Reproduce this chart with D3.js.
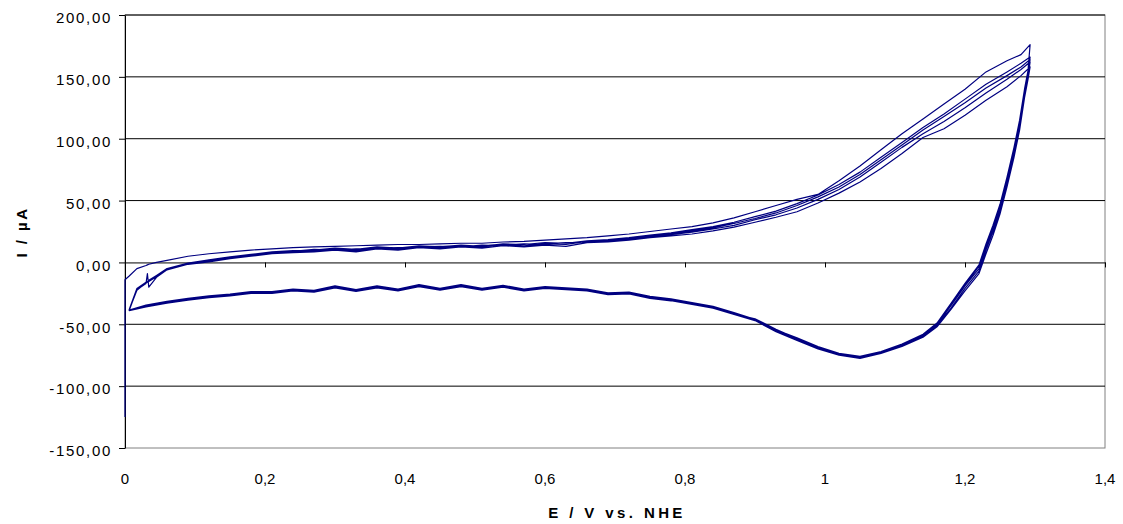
<!DOCTYPE html>
<html>
<head>
<meta charset="utf-8">
<script src="https://cdn.jsdelivr.net/npm/d3@7"></script>
<style>
  html, body { margin: 0; padding: 0; background: #fff; }
  svg { display: block; }
  text { font-family: "Liberation Sans", Arial, sans-serif; fill: #000; }
</style>
</head>
<body>
<svg id="chart" width="1123" height="524"></svg>
<script>
// ---- data (E / V vs. NHE, I / µA) ----
const xTicks = [0, 0.2, 0.4, 0.6, 0.8, 1, 1.2, 1.4];
const yTicks = [-150, -100, -50, 0, 50, 100, 150, 200];

const startSegment = [[0, -125], [0, -14]];

const anodicE = [0.006, 0.017, 0.030, 0.032, 0.034, 0.045, 0.06, 0.09, 0.12, 0.15, 0.18, 0.21, 0.24, 0.27, 0.30, 0.33, 0.36, 0.39, 0.42, 0.45, 0.48, 0.51, 0.54, 0.57, 0.60, 0.63, 0.66, 0.69, 0.72, 0.75, 0.78, 0.81, 0.84, 0.87, 0.90, 0.93, 0.96, 0.99, 1.02, 1.05, 1.08, 1.11, 1.14, 1.17, 1.20, 1.23, 1.26, 1.28, 1.293];

const anodic1 = [-11, -5, -2.5, -2, -1.5, 0, 1.6, 5, 7, 8.5, 10, 11, 12, 12.5, 13, 13.5, 14, 14.5, 14.5, 15, 15.5, 15.5, 16.5, 17, 18, 19, 20, 21.5, 23, 25, 27, 29, 32, 36, 41, 46, 51, 55, 66, 78, 91, 104, 116, 128, 140, 154, 163, 168, 176];
const anodic2 = [-38.8, -22, -17, -9, -20, -12, -6, -1.5, 1, 3.5, 5.5, 7.5, 8.5, 9.5, 11, 9.5, 12, 10.5, 13, 12, 13.5, 12.5, 14.5, 13.5, 15, 14.5, 17, 17.5, 19, 21, 22.5, 24.5, 27, 30, 34.5, 38.5, 44, 51, 59, 69, 81, 93, 104, 114, 125, 137, 148, 156, 162];
const anodic3 = [-38, -21.5, -16, -15.5, -15, -11, -5.5, -1, 1.5, 4, 6, 8, 9, 10.5, 10, 11, 11.5, 12, 12.5, 13, 12.5, 14, 13.5, 15, 14.5, 16, 16.5, 18, 19.5, 21.5, 23.5, 25.5, 28, 31.5, 35.5, 40, 46, 53, 61, 71, 83, 95, 107, 118, 129, 141, 151, 158, 164];
const anodic4 = [-38.5, -22.5, -16.5, -16, -15.5, -11.5, -6, -1.5, 0.5, 3, 5, 7, 8, 8.5, 10, 8.5, 11, 10, 12, 11, 12.5, 11.5, 13.5, 12.5, 14, 13, 16, 16.5, 18, 20, 21.5, 23, 25.5, 28.5, 32.5, 36.5, 41, 48, 56, 65, 76, 88, 101, 108, 119, 131, 142, 151, 158];
const anodic5 = [-38, -21, -16, -15.5, -14.5, -10.5, -5, -0.5, 2, 4.5, 6.5, 8.5, 9.5, 10, 11.5, 10.5, 12.5, 11.5, 13.5, 12.5, 14, 13, 15, 14.5, 16, 15.5, 17.5, 18.5, 20, 22, 24, 26.5, 29, 32.5, 37, 41.5, 47.5, 54.5, 63, 73, 85, 97, 109, 120, 132, 144, 154, 161, 166];

const cathodicE = [1.293, 1.29, 1.285, 1.278, 1.27, 1.26, 1.25, 1.24, 1.23, 1.22, 1.20, 1.18, 1.16, 1.14, 1.11, 1.08, 1.05, 1.02, 0.99, 0.96, 0.93, 0.90, 0.87, 0.84, 0.81, 0.78, 0.75, 0.72, 0.69, 0.66, 0.63, 0.60, 0.57, 0.54, 0.51, 0.48, 0.45, 0.42, 0.39, 0.36, 0.33, 0.30, 0.27, 0.24, 0.21, 0.18, 0.15, 0.12, 0.09, 0.06, 0.03, 0.006];

const cathodic1 = [176, 155, 140, 115, 93, 69, 47, 30, 15, -2, -17, -33, -49, -58, -66, -72, -76, -74, -69, -62, -55, -46, -41, -36, -33, -30, -28, -24.5, -25, -22, -21, -20, -22, -19, -21.5, -18.5, -21.5, -18.5, -22, -19.5, -22.5, -19.5, -23, -22, -24, -24, -26, -27.5, -29.5, -32, -35, -38.8];
const cathodic2 = [162, 150, 136, 110, 88, 64, 42, 25, 10, -7, -21, -37, -51, -60, -67.5, -73, -77, -74.5, -69.5, -61.5, -54, -45.5, -41.5, -36.5, -33.5, -30.5, -28.5, -25, -25.5, -22.5, -21.5, -20.5, -22.5, -19.5, -22, -19, -22, -19, -22.5, -20, -23, -20, -23.5, -22.5, -24.5, -24.5, -26.5, -28, -30, -32.5, -35.5, -38.8];
const cathodic3 = [164, 152, 138, 112, 90, 66, 44, 27, 12, -5, -19, -35, -50, -59, -67, -72.5, -76.5, -74, -68.5, -62.5, -55.5, -46.5, -40.5, -35.5, -32.5, -29.5, -27.5, -24, -24.5, -21.5, -20.5, -19.5, -21.5, -18.5, -21, -18, -21, -18, -21.5, -19, -22, -19, -22.5, -21.5, -23.5, -23.5, -25.5, -27, -29, -31.5, -34.5, -38.5];
const cathodic4 = [158, 148, 133, 107, 85, 61, 39, 22, 7, -9, -23, -38, -52, -60.5, -68, -73.5, -77.5, -75, -70, -63, -56, -47, -42, -37, -34, -31, -29, -25.5, -26, -23, -22, -21, -23, -20, -22.5, -19.5, -22.5, -19.5, -23, -20.5, -23.5, -20.5, -24, -23, -25, -25, -27, -28.5, -30.5, -33, -36, -39];
const cathodic5 = [166, 153, 140, 114, 92, 68, 46, 29, 14, -3, -18, -34, -50, -58.5, -66.5, -72, -76, -73.5, -68, -61, -54.5, -46, -40.5, -35.5, -33, -30, -28, -24.5, -25, -22, -21, -20, -22, -19, -21.5, -18.5, -21.5, -18.5, -22, -19.5, -22.5, -19.5, -23, -22, -24, -24, -26, -27.5, -29.5, -32, -35, -38.8];

const anodicSweeps = [anodic1, anodic2, anodic3, anodic4, anodic5];
const cathodicSweeps = [cathodic1, cathodic2, cathodic3, cathodic4, cathodic5];

// ---- layout ----
const svg = d3.select("#chart");
const mLeft = 125, mRight = 1105, mTop = 15, mBottom = 448;
const x = d3.scaleLinear().domain([0, 1.4]).range([mLeft, mRight]);
const y = d3.scaleLinear().domain([-150, 200]).range([mBottom, mTop]);

const loc = d3.formatLocale({decimal: ",", thousands: ".", grouping: [3], currency: ["", ""], minus: "-"});
const fmtY = loc.format(".2f");
const fmtX = loc.format("~g");

// plot frame (grey)
svg.append("rect")
  .attr("x", mLeft).attr("y", mTop)
  .attr("width", mRight - mLeft).attr("height", mBottom - mTop)
  .attr("fill", "none").attr("stroke", "#808080").attr("stroke-width", 1);

// horizontal gridlines
svg.append("g").selectAll("line")
  .data(yTicks.filter(v => v !== 0 && v !== -150))
  .join("line")
  .attr("x1", mLeft).attr("x2", mRight)
  .attr("y1", d => y(d)).attr("y2", d => y(d))
  .attr("stroke", "#000").attr("stroke-width", 1);

// y axis
const yAxis = svg.append("g")
  .attr("transform", `translate(${mLeft},0)`)
  .call(d3.axisLeft(y).tickValues(yTicks).tickSize(6).tickSizeOuter(0).tickFormat(fmtY));
yAxis.select(".domain").attr("stroke", "#000");
yAxis.selectAll(".tick line").attr("stroke", "#000");
yAxis.selectAll(".tick text")
  .attr("x", -13).attr("dy", "0.52em")
  .style("font-size", "15px")
  .style("letter-spacing", "1.7px")
  .style("font-family", "'Liberation Sans', Arial, sans-serif");

// x axis at I = 0
const xAxis = svg.append("g")
  .attr("transform", `translate(0,${y(0)})`)
  .call(d3.axisBottom(x).tickValues(xTicks.filter(v => v !== 0)).tickSize(5).tickSizeOuter(0).tickFormat(""));
xAxis.select(".domain").attr("stroke", "#000");
xAxis.selectAll(".tick line").attr("stroke", "#000");

// x tick labels below the plot
svg.append("g").selectAll("text")
  .data(xTicks)
  .join("text")
  .attr("x", d => x(d)).attr("y", 484)
  .attr("text-anchor", "middle")
  .style("font-size", "15px")
  .text(d => fmtX(d));

// axis titles
svg.append("text")
  .attr("x", 617).attr("y", 518)
  .attr("text-anchor", "middle")
  .style("font-size", "15px").style("font-weight", "bold").style("letter-spacing", "3.4px")
  .text("E / V  vs. NHE");

svg.append("text")
  .attr("transform", "translate(27,232) rotate(-90)")
  .attr("text-anchor", "middle")
  .style("font-size", "15px").style("font-weight", "bold").style("letter-spacing", "2.5px")
  .text("I / µA");

// ---- curve ----
const points = [...startSegment];
anodicSweeps.forEach((a, k) => {
  anodicE.forEach((e, i) => points.push([e, a[i]]));
  cathodicE.forEach((e, i) => points.push([e, cathodicSweeps[k][i]]));
});

const line = d3.line().x(d => x(d[0])).y(d => y(d[1]));
svg.append("path")
  .datum(points)
  .attr("d", line)
  .attr("fill", "none")
  .attr("stroke", "#000080")
  .attr("stroke-width", 1.2)
  .attr("stroke-linejoin", "round");
</script>
</body>
</html>
